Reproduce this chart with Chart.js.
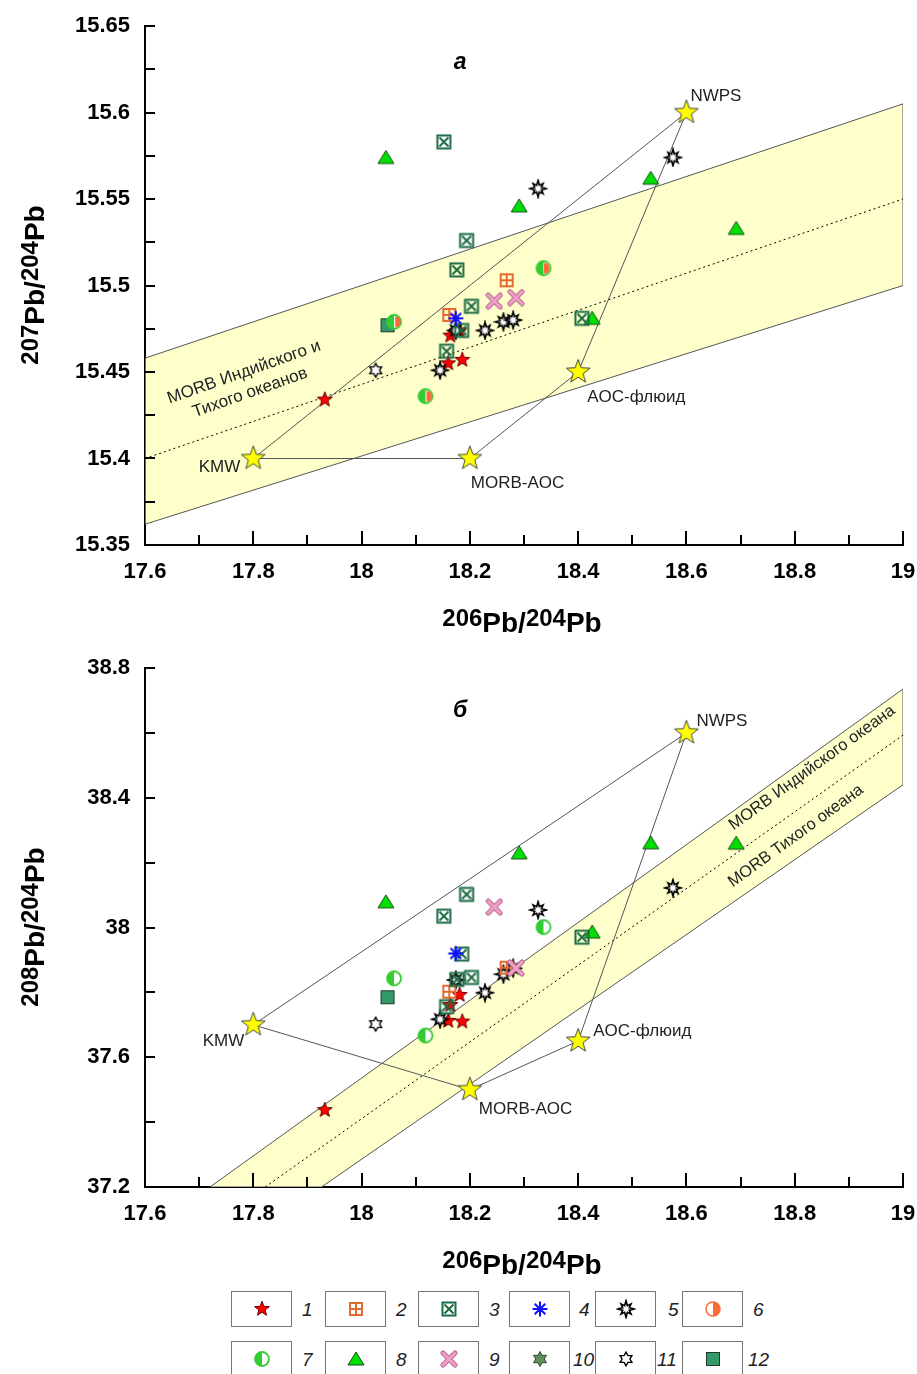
<!DOCTYPE html>
<html>
<head>
<meta charset="utf-8">
<script src="https://cdn.jsdelivr.net/npm/chart.js@4.4.1/dist/chart.umd.min.js"></script>
<style>
    body { margin: 0; background: #fff; width: 917px; height: 1374px; overflow: hidden; position: relative;
           font-family: "Liberation Sans", Arial, sans-serif; }
    canvas.chart { position: absolute; left: 0; width: 917px; height: 640px; }
    #chartA { top: 0; }
    #chartB { top: 640px; }
    .lg-box { position: absolute; width: 59px; height: 34px; border: 1.5px solid #777; background: #fff;
              display: flex; align-items: center; justify-content: center; }
    .lg-num { position: absolute; font-style: italic; font-size: 19px; color: #222; line-height: 20px; }
</style>
</head>
<body>
<canvas id="chartA" class="chart" width="917" height="640"></canvas>
<canvas id="chartB" class="chart" width="917" height="640"></canvas>
<div id="legend"></div>
<script>
// ---- данные (206Pb/204Pb, 207Pb/204Pb, 208Pb/204Pb) ----
const xTicks = [17.6, 17.8, 18, 18.2, 18.4, 18.6, 18.8, 19];
const yTicksA = [15.35, 15.4, 15.45, 15.5, 15.55, 15.6, 15.65];
const yTicksB = [37.2, 37.6, 38, 38.4, 38.8];

// 1 - красные звёзды
const s1X = [17.932, 18.160, 18.186, 18.164, 18.181];
const s1A = [15.434, 15.455, 15.457, 15.471, 15.474];
const s1B = [37.437, 37.712, 37.710, 37.761, 37.792];
// 2
const s2X = [18.162, 18.268];
const s2A = [15.483, 15.503];
const s2B = [37.802, 37.876];
// 3
const s3X = [18.152, 18.194, 18.176, 18.203, 18.185, 18.157, 18.407];
const s3A = [15.583, 15.526, 15.509, 15.488, 15.474, 15.462, 15.481];
const s3B = [38.035, 38.102, 37.840, 37.846, 37.918, 37.756, 37.970];
// 4
const s4X = [18.174];
const s4A = [15.481];
const s4B = [37.920];
// 5
const s5X = [18.575, 18.326, 18.228, 18.262, 18.280, 18.145, 18.174];
const s5A = [15.574, 15.556, 15.474, 15.479, 15.480, 15.451, 15.474];
const s5B = [38.122, 38.054, 37.799, 37.856, 37.874, 37.717, 37.838];
// 6, 7
const s6X = [18.062, 18.120, 18.337];
const s6A = [15.479, 15.436, 15.510];
const s6B = [null, null, null];
const s7X = [18.060, 18.118, 18.336];
const s7A = [15.479, 15.436, 15.510];
const s7B = [37.843, 37.667, 38.001];
// 8
const s8X = [18.045, 18.291, 18.534, 18.426, 18.692];
const s8A = [15.574, 15.546, 15.562, 15.481, 15.533];
const s8B = [38.079, 38.230, 38.261, 37.986, 38.260];
// 9
const s9X = [18.245, 18.285];
const s9A = [15.491, 15.493];
const s9B = [38.063, 37.875];
// 10 - нет точек
const s10X = [], s10A = [], s10B = [];
// 11
const s11X = [18.026];
const s11A = [15.451];
const s11B = [37.702];
// 12
const s12X = [18.048];
const s12A = [15.477];
const s12B = [37.785];

// конечные члены смешения
const emNames = ['KMW', 'NWPS', 'MORB-AOC', 'AOC-флюид'];
const emX = [17.8, 18.6, 18.2, 18.4];
const emA = [15.40, 15.60, 15.40, 15.45];
const emB = [37.70, 38.60, 37.50, 37.65];
const mixOrder = [0, 1, 3, 2, 0];

// поле MORB
const bandA = [[17.6, 15.362], [19, 15.500], [19, 15.605], [17.6, 15.458], [17.6, 15.362]];
const midA = [[17.6, 15.400], [19, 15.550]];
const bandB = [[17.926, 37.2], [19, 38.440], [19, 38.735], [17.72, 37.2], [17.926, 37.2]];
const midB = [[17.822, 37.2], [19, 38.593]];

const FONT = '"Liberation Sans", Arial, sans-serif';

// ---- маркеры ----
function starPath(g, n, ro, ri) {
    g.beginPath();
    for (let i = 0; i < 2 * n; i++) {
        const r = i % 2 ? ri : ro;
        const a = i * Math.PI / n;
        g.lineTo(Math.sin(a) * r, -Math.cos(a) * r);
    }
    g.closePath();
}

const markerDraw = {
    s1: [18, g => { starPath(g, 5, 7.8, 3.3); g.fillStyle = '#ff0000'; g.fill(); g.strokeStyle = '#6a0000'; g.lineWidth = 1; g.stroke(); }],
    s2: [16, g => {
        g.strokeStyle = '#e4692f'; g.lineWidth = 2; g.strokeRect(-6, -6, 12, 12);
        g.beginPath(); g.moveTo(0, -6); g.lineTo(0, 6); g.moveTo(-6, 0); g.lineTo(6, 0); g.stroke();
    }],
    s3: [18, g => {
        g.strokeStyle = '#1b6b43'; g.lineWidth = 2; g.strokeRect(-6.5, -6.5, 13, 13);
        g.beginPath(); g.moveTo(-4.5, -4.5); g.lineTo(4.5, 4.5); g.moveTo(4.5, -4.5); g.lineTo(-4.5, 4.5); g.stroke();
    }],
    s4: [18, g => {
        g.strokeStyle = '#1010ff'; g.lineWidth = 2; g.beginPath();
        for (let i = 0; i < 8; i++) { const a = i * Math.PI / 4; g.moveTo(0, 0); g.lineTo(Math.cos(a) * 7.5, Math.sin(a) * 7.5); }
        g.stroke();
    }],
    s5: [20, g => {
        g.beginPath();
        for (let i = 0; i < 16; i++) {
            const r = i % 2 ? 3.6 : (i % 4 === 0 ? 8.2 : 7);
            const a = i * Math.PI / 8;
            g.lineTo(Math.sin(a) * r, -Math.cos(a) * r);
        }
        g.closePath(); g.fillStyle = '#fff'; g.fill(); g.strokeStyle = '#000'; g.lineWidth = 1.7; g.stroke();
    }],
    s6: [18, g => { g.beginPath(); g.arc(0, 0, 5.6, -Math.PI / 2, Math.PI / 2); g.closePath(); g.fillStyle = '#ff6a33'; g.fill(); }],
    s6l: [18, g => {
        g.beginPath(); g.arc(0, 0, 7, 0, Math.PI * 2); g.fillStyle = '#fff'; g.fill();
        g.beginPath(); g.arc(0, 0, 7, -Math.PI / 2, Math.PI / 2); g.closePath(); g.fillStyle = '#ff6a33'; g.fill();
        g.beginPath(); g.arc(0, 0, 7, 0, Math.PI * 2); g.strokeStyle = '#ff6a33'; g.lineWidth = 1.5; g.stroke();
    }],
    s7: [18, g => {
        g.beginPath(); g.arc(0, 0, 7, 0, Math.PI * 2); g.fillStyle = '#fff'; g.fill();
        g.beginPath(); g.arc(0, 0, 7, Math.PI / 2, Math.PI * 1.5); g.closePath(); g.fillStyle = '#33cc33'; g.fill();
        g.beginPath(); g.arc(0, 0, 7, 0, Math.PI * 2); g.strokeStyle = '#33cc33'; g.lineWidth = 1.8; g.stroke();
    }],
    s8: [18, g => {
        g.beginPath(); g.moveTo(0, -7); g.lineTo(8, 6); g.lineTo(-8, 6); g.closePath();
        g.fillStyle = '#00e000'; g.fill(); g.strokeStyle = '#1c4a1c'; g.lineWidth = 1; g.stroke();
    }],
    s9: [18, g => {
        g.lineCap = 'round'; g.beginPath(); g.moveTo(-6, -6); g.lineTo(6, 6); g.moveTo(6, -6); g.lineTo(-6, 6);
        g.strokeStyle = '#b86a90'; g.lineWidth = 5; g.stroke(); g.strokeStyle = '#f0a0c8'; g.lineWidth = 3; g.stroke();
    }],
    s10: [18, g => { starPath(g, 6, 7.5, 4.2); g.fillStyle = '#5f8f5a'; g.fill(); g.strokeStyle = '#2e4a2c'; g.lineWidth = 1; g.stroke(); }],
    s11: [18, g => { starPath(g, 6, 6.8, 3.9); g.fillStyle = '#fff'; g.fill(); g.strokeStyle = '#000'; g.lineWidth = 1.4; g.stroke(); }],
    s12: [18, g => { g.fillStyle = '#339966'; g.fillRect(-6.5, -6.5, 13, 13); g.strokeStyle = '#1e3a2a'; g.lineWidth = 1; g.strokeRect(-6.5, -6.5, 13, 13); }],
    em: [30, g => { starPath(g, 5, 12.5, 5.2); g.fillStyle = '#ffff00'; g.fill(); g.strokeStyle = '#444'; g.lineWidth = 1; g.stroke(); }]
};

function makeMarker(key) {
    const [size, draw] = markerDraw[key];
    const c = document.createElement('canvas');
    c.width = c.height = size;
    const g = c.getContext('2d');
    g.translate(size / 2, size / 2);
    draw(g);
    return c;
}

const series = [
    { key: 's12', x: s12X, a: s12A, b: s12B, order: 30 },
    { key: 's7', x: s7X, a: s7A, b: s7B, order: 29 },
    { key: 's6', x: s6X, a: s6A, b: s6B, order: 28 },
    { key: 's11', x: s11X, a: s11A, b: s11B, order: 27 },
    { key: 's8', x: s8X, a: s8A, b: s8B, order: 26 },
    { key: 's1', x: s1X, a: s1A, b: s1B, order: 25 },
    { key: 's5', x: s5X, a: s5A, b: s5B, order: 24 },
    { key: 's2', x: s2X, a: s2A, b: s2B, order: 23 },
    { key: 's3', x: s3X, a: s3A, b: s3B, order: 22 },
    { key: 's9', x: s9X, a: s9A, b: s9B, order: 21 },
    { key: 's4', x: s4X, a: s4A, b: s4B, order: 20 },
    { key: 's10', x: s10X, a: s10A, b: s10B, order: 19 }
];

function fmt(v) { return String(+Number(v).toFixed(3)); }
function pts(arr) { return arr.map(p => ({ x: p[0], y: p[1] })); }

// подпись изотопного отношения с поднятыми массовыми числами
function drawIso(ctx, cx, cy, text, rot) {
    const parts = text.match(/\d+|[^\d]+/g).map(t => ({ t, sup: /\d/.test(t) }));
    ctx.save();
    ctx.translate(cx, cy);
    ctx.rotate(rot);
    ctx.fillStyle = '#000';
    ctx.textBaseline = 'alphabetic';
    ctx.textAlign = 'left';
    let w = 0;
    parts.forEach(p => { ctx.font = (p.sup ? 'bold 24px ' : 'bold 28px ') + FONT; p.w = ctx.measureText(p.t).width; w += p.w; });
    let xx = -w / 2;
    parts.forEach(p => {
        ctx.font = (p.sup ? 'bold 24px ' : 'bold 28px ') + FONT;
        ctx.fillText(p.t, xx, p.sup ? -6 : 0);
        xx += p.w;
    });
    ctx.restore();
}

function decorPlugin(panel) {
    return {
        id: 'decor',
        afterDatasetsDraw(chart) {
            const { ctx, scales: { x, y } } = chart;
            ctx.save();
            ctx.fillStyle = '#222';
            ctx.textBaseline = 'middle';
            ctx.font = '17px ' + FONT;
            emNames.forEach((name, i) => {
                const off = panel.labelOff[i];
                ctx.textAlign = off[2];
                ctx.fillText(name, x.getPixelForValue(emX[i]) + off[0], y.getPixelForValue(panel.emY[i]) + off[1]);
            });
            ctx.font = panel.bandFont + 'px ' + FONT;
            ctx.textAlign = 'center';
            panel.bandText.forEach(t => {
                ctx.save();
                ctx.translate(x.getPixelForValue(t.x), y.getPixelForValue(t.y));
                ctx.rotate(t.angle * Math.PI / 180);
                ctx.fillText(t.text, 0, 0);
                ctx.restore();
            });
            ctx.fillStyle = '#000';
            ctx.font = 'bold italic 23px ' + FONT;
            ctx.fillText(panel.letter, x.getPixelForValue(panel.letterPos[0]), y.getPixelForValue(panel.letterPos[1]));
            ctx.restore();
        },
        afterDraw(chart) {
            const { ctx, scales: { x, y }, chartArea: ca } = chart;
            ctx.save();
            ctx.strokeStyle = '#000';
            ctx.lineWidth = 2;
            ctx.beginPath();
            // внутренние засечки: ось X через 0.1, ось Y через половину шага подписей
            for (let i = 0; i < xTicks.length; i++) {
                const px = Math.round(x.getPixelForValue(xTicks[i]));
                ctx.moveTo(px, ca.bottom); ctx.lineTo(px, ca.bottom - 14);
                if (i < xTicks.length - 1) {
                    const pm = Math.round(x.getPixelForValue((xTicks[i] + xTicks[i + 1]) / 2));
                    ctx.moveTo(pm, ca.bottom); ctx.lineTo(pm, ca.bottom - 10);
                }
            }
            const yt = panel.yTicks;
            for (let i = 0; i < yt.length; i++) {
                const py = Math.round(y.getPixelForValue(yt[i]));
                ctx.moveTo(ca.left, py); ctx.lineTo(ca.left + 10, py);
                if (i < yt.length - 1) {
                    const pm = Math.round(y.getPixelForValue((yt[i] + yt[i + 1]) / 2));
                    ctx.moveTo(ca.left, pm); ctx.lineTo(ca.left + 10, pm);
                }
            }
            ctx.stroke();
            ctx.restore();
            drawIso(ctx, 522, ca.bottom + 87, '206Pb/204Pb', 0);
            drawIso(ctx, 44, panel.yTitleY, panel.yTitle, -Math.PI / 2);
        }
    };
}

function makeChart(el, panel) {
    const emMarker = makeMarker('em');
    const datasets = [
        { type: 'line', data: pts(panel.band), borderColor: '#555', borderWidth: 1, backgroundColor: '#ffffcc',
          fill: 'shape', pointRadius: 0, tension: 0, order: 100 },
        { type: 'line', data: pts(panel.mid), borderColor: '#000', borderWidth: 1, borderDash: [2, 3],
          fill: false, pointRadius: 0, order: 99 },
        { type: 'line', data: mixOrder.map(i => ({ x: emX[i], y: panel.emY[i] })), borderColor: '#555', borderWidth: 1,
          fill: false, pointRadius: 0, tension: 0, order: 98 }
    ];
    series.forEach(s => {
        const ys = panel.which === 'A' ? s.a : s.b;
        datasets.push({
            data: s.x.map((v, i) => ({ x: v, y: ys[i] })).filter(p => p.y != null),
            pointStyle: makeMarker(s.key), pointRadius: 5, order: s.order
        });
    });
    datasets.push({ data: emX.map((v, i) => ({ x: v, y: panel.emY[i] })), pointStyle: emMarker, pointRadius: 5, order: 1 });

    return new Chart(el, {
        type: 'scatter',
        data: { datasets },
        options: {
            responsive: false,
            animation: false,
            events: [],
            layout: { padding: { left: 0, right: 14, top: panel.padTop, bottom: 0 } },
            plugins: { legend: { display: false }, tooltip: { enabled: false } },
            scales: {
                x: {
                    type: 'linear', min: 17.6, max: 19,
                    grid: { display: false, drawTicks: false },
                    border: { display: true, color: '#000', width: 2 },
                    afterBuildTicks: s => { s.ticks = xTicks.map(v => ({ value: v })); },
                    afterFit: s => { s.height = panel.xAxisH; s.paddingLeft = 0; s.paddingRight = 0; },
                    ticks: { font: { family: FONT, size: 22, weight: 'bold' }, color: '#000', padding: 14,
                             maxRotation: 0, autoSkip: false, callback: v => fmt(v) }
                },
                y: {
                    type: 'linear', min: panel.yTicks[0], max: panel.yTicks[panel.yTicks.length - 1],
                    grid: { display: false, drawTicks: false },
                    border: { display: true, color: '#000', width: 2 },
                    afterBuildTicks: s => { s.ticks = panel.yTicks.map(v => ({ value: v })); },
                    afterFit: s => { s.width = 145; s.paddingTop = 0; s.paddingBottom = 0; },
                    ticks: { font: { family: FONT, size: 22, weight: 'bold' }, color: '#000', padding: 15,
                             autoSkip: false, callback: v => fmt(v) }
                }
            }
        },
        plugins: [decorPlugin(panel)]
    });
}

makeChart(document.getElementById('chartA'), {
    which: 'A', padTop: 26, xAxisH: 95, yTicks: yTicksA, emY: emA, band: bandA, mid: midA,
    yTitle: '207Pb/204Pb', yTitleY: 285, letter: 'а', letterPos: [18.182, 15.629],
    labelOff: [[-13, 9, 'right'], [4, -16, 'left'], [1, 25, 'left'], [9, 25, 'left']],
    bandFont: 17,
    bandText: [
        { text: 'MORB Индийского и', x: 17.783, y: 15.4498, angle: -19.5 },
        { text: 'Тихого океанов', x: 17.794, y: 15.438, angle: -19.5 }
    ]
});

makeChart(document.getElementById('chartB'), {
    which: 'B', padTop: 28, xAxisH: 93, yTicks: yTicksB, emY: emB, band: bandB, mid: midB,
    yTitle: '208Pb/204Pb', yTitleY: 287, letter: 'б', letterPos: [18.182, 38.667],
    labelOff: [[-9, 16, 'right'], [10, -12, 'left'], [9, 20, 'left'], [15, -10, 'left']],
    bandFont: 16.5,
    bandText: [
        { text: 'MORB Индийского океана', x: 18.832, y: 38.492, angle: -36 },
        { text: 'MORB Тихого океана', x: 18.802, y: 38.282, angle: -36 }
    ]
});

// ---- условные обозначения ----
const legendKeys = ['s1', 's2', 's3', 's4', 's5', 's6l', 's7', 's8', 's9', 's10', 's11', 's12'];
const boxLefts = [231, 325, 418, 509, 595, 682];
const numLefts = [[302, 396, 489, 579, 668, 753], [302, 396, 489, 573, 657, 748]];
const rowTops = [1291, 1341];
const legend = document.getElementById('legend');
legendKeys.forEach((k, i) => {
    const row = Math.floor(i / 6), col = i % 6;
    const box = document.createElement('div');
    box.className = 'lg-box';
    box.style.left = boxLefts[col] + 'px';
    box.style.top = rowTops[row] + 'px';
    box.appendChild(makeMarker(k));
    legend.appendChild(box);
    const num = document.createElement('span');
    num.className = 'lg-num';
    num.textContent = String(i + 1);
    num.style.left = numLefts[row][col] + 'px';
    num.style.top = (rowTops[row] + 9) + 'px';
    legend.appendChild(num);
});
</script>
</body>
</html>
